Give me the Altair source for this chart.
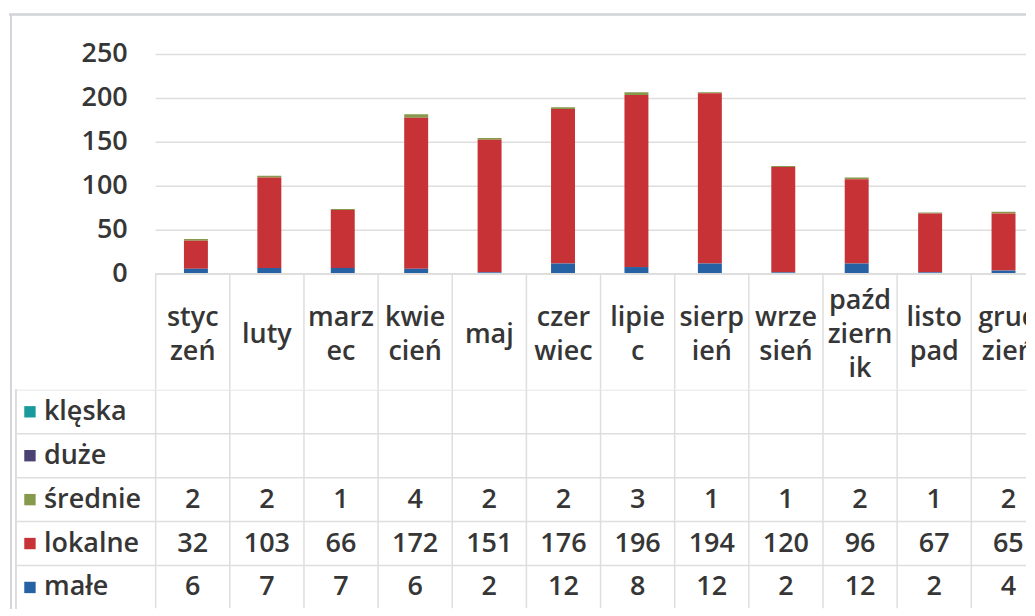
import altair as alt
import pandas as pd

# ---------------- data ----------------
months = ["styczeń", "luty", "marzec", "kwiecień", "maj", "czerwiec",
          "lipiec", "sierpień", "wrzesień", "październik", "listopad", "grudzień"]
month_headers = ["styc\nzeń", "luty", "marz\nec", "kwie\ncień", "maj", "czer\nwiec",
                 "lipie\nc", "sierp\nień", "wrze\nsień", "paźd\nziern\nik", "listo\npad", "grud\nzień"]
series = ["klęska", "duże", "średnie", "lokalne", "małe"]
kleska = [None] * 12
duze = [None] * 12
srednie = [2, 2, 1, 4, 2, 2, 3, 1, 1, 2, 1, 2]
lokalne = [32, 103, 66, 172, 151, 176, 196, 194, 120, 96, 67, 65]
male = [6, 7, 7, 6, 2, 12, 8, 12, 2, 12, 2, 4]
y_ticks = [0, 50, 100, 150, 200, 250]
colors = ["#1a9a9c", "#4a4273", "#86994c", "#c63236", "#2561a3"]

# ---------------- styling ----------------
FONT = "Open Sans"
FS = 27
TXT = "#363636"
LINE = "#dedede"
BORDER = "#d2d5d9"
W = 1019
H_TOP, H_HEAD, H_ROWS = 260, 116, 219
XDOM = [-2.478, 11.238]
YMAX = 295.45
ROW_H = 44.0
LINE_H = 34

values_by_series = [kleska, duze, srednie, lokalne, male]
rows = []
for s_i, (name, vals) in enumerate(zip(series, values_by_series)):
    for m_i, v in enumerate(vals):
        if v is not None:
            rows.append({"month": months[m_i], "i": m_i, "series": name, "r": s_i,
                         "value": v, "stack": len(series) - 1 - s_i})
long_df = pd.DataFrame(rows)
month_df = pd.DataFrame({"month": months, "i": list(range(len(months))),
                         "header": month_headers,
                         "nl": [h.count("\n") + 1 for h in month_headers]})
col_df = pd.DataFrame({"b": [k - 0.5 for k in range(len(months) + 1)]})
series_df = pd.DataFrame({"series": series, "r": list(range(len(series)))})
rowline_df = pd.DataFrame({"rb": [k - 0.5 for k in range(len(series) + 1)]})
tick_df = pd.DataFrame({"v": y_ticks})

xsc = alt.Scale(domain=XDOM, nice=False, zero=False)
ysc = alt.Scale(domain=[0, YMAX], nice=False, zero=False)
rsc = alt.Scale(domain=[-0.5, -0.5 + H_ROWS / ROW_H], nice=False, zero=False, reverse=True)
csc = alt.Scale(domain=series, range=colors)


def xq(field):
    return alt.X(field, type="quantitative", scale=xsc, axis=None)


# ---------------- top: stacked bars ----------------
grid = alt.Chart(tick_df).transform_filter("datum.v > 0").mark_rule(
    color=LINE, strokeWidth=1.5).encode(
    y=alt.Y("v:Q", scale=ysc, axis=None),
    x=alt.value(147), x2=alt.value(W),
)
ylabels = alt.Chart(tick_df).mark_text(
    align="right", baseline="middle", font=FONT, fontSize=FS, fontWeight=600, color=TXT
).encode(y=alt.Y("v:Q", scale=ysc, axis=None), x=alt.value(119), text="v:Q")
bars = alt.Chart(long_df).mark_bar(size=24, clip=True).encode(
    x=xq("i"),
    y=alt.Y("value:Q", stack="zero", scale=ysc, axis=None),
    color=alt.Color("series:N", scale=csc, legend=None),
    order=alt.Order("stack:Q", sort="ascending"),
)
top_border = alt.Chart(tick_df).mark_rule(color=BORDER, strokeWidth=1.5).encode(
    y=alt.value(0), x=alt.value(0), x2=alt.value(W))
left_border_top = alt.Chart(tick_df).mark_rule(color=BORDER, strokeWidth=1.5).encode(
    x=alt.value(2), y=alt.value(0), y2=alt.value(H_TOP))
top = alt.layer(grid, bars, ylabels, top_border, left_border_top).properties(width=W, height=H_TOP)

# ---------------- header row ----------------
head_cols = alt.Chart(col_df).mark_rule(color=LINE, strokeWidth=1.5, clip=True).encode(
    x=xq("b"), y=alt.value(0), y2=alt.value(H_HEAD))
head_top = alt.Chart(col_df).mark_rule(color=LINE, strokeWidth=1).encode(
    x=alt.value(147), x2=alt.value(W), y=alt.value(0))
head_text = alt.Chart(month_df).transform_calculate(
    off=f"-(datum.nl - 1) * {LINE_H / 2}"
).mark_text(
    lineBreak="\n", lineHeight=LINE_H, font=FONT, fontSize=FS, fontWeight=600,
    color=TXT, baseline="middle", align="center", clip=True
).encode(x=xq("i"), y=alt.value(61), yOffset=alt.YOffset("off:Q", scale=None),
         text="header:N")
left_border_head = alt.Chart(col_df).mark_rule(color=BORDER, strokeWidth=1.5).encode(
    x=alt.value(2), y=alt.value(0), y2=alt.value(H_HEAD))
header = alt.layer(head_cols, head_top, head_text, left_border_head).properties(width=W, height=H_HEAD)

# ---------------- data table rows ----------------
row_lines = alt.Chart(rowline_df).mark_rule(color=LINE, strokeWidth=1.5, clip=True).encode(
    y=alt.Y("rb:Q", scale=rsc, axis=None), x=alt.value(7), x2=alt.value(W))
row_cols = alt.Chart(col_df).mark_rule(color=LINE, strokeWidth=1.5, clip=True).encode(
    x=xq("b"), y=alt.value(0), y2=alt.value(H_ROWS))
label_left = alt.Chart(col_df).mark_rule(color=LINE, strokeWidth=1.5).encode(
    x=alt.value(7), y=alt.value(0), y2=alt.value(H_ROWS))
left_border_rows = alt.Chart(col_df).mark_rule(color=BORDER, strokeWidth=1.5).encode(
    x=alt.value(2), y=alt.value(0), y2=alt.value(H_ROWS))
squares = alt.Chart(series_df).mark_square(size=130, opacity=1).encode(
    x=alt.value(21), y=alt.Y("r:Q", scale=rsc, axis=None),
    color=alt.Color("series:N", scale=csc, legend=None))
labels = alt.Chart(series_df).mark_text(
    align="left", baseline="middle", font=FONT, fontSize=FS, fontWeight=600, color=TXT
).encode(x=alt.value(35), y=alt.Y("r:Q", scale=rsc, axis=None), text="series:N")
numbers = alt.Chart(long_df).mark_text(
    align="center", baseline="middle", font=FONT, fontSize=FS, fontWeight=600, color=TXT
).encode(x=xq("i"), y=alt.Y("r:Q", scale=rsc, axis=None), text="value:Q")
table = alt.layer(row_lines, row_cols, label_left, left_border_rows, squares, labels, numbers
                  ).properties(width=W, height=H_ROWS)

chart = alt.vconcat(top, header, table, spacing=0, bounds="flush").properties(
    padding={"top": 5, "left": 0, "right": 0, "bottom": 0}
).configure_view(stroke=None)

chart.save("out.html", embed_options={"renderer": "svg", "actions": False})
